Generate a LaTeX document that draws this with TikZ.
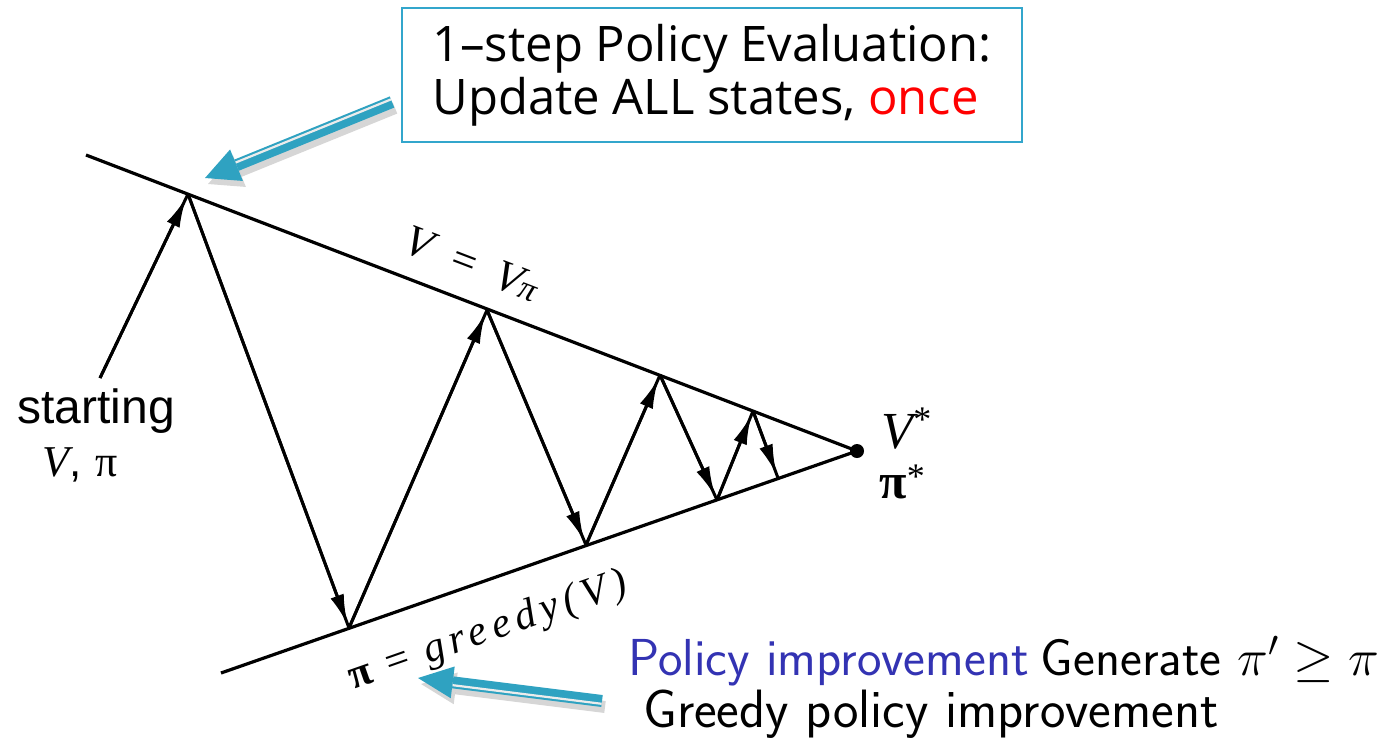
\documentclass[tikz,border=0pt]{standalone}
\usepackage{fix-cm}
\usepackage{fontspec}
\usetikzlibrary{arrows.meta,calc}
\newfontfamily\boxfont{Open Sans}
\newfontfamily\helv{Liberation Sans}
\newfontfamily\tms{Liberation Serif}
\newfontfamily\tmsspaced[LetterSpace=14]{Liberation Serif}
\definecolor{tealb}{HTML}{33A6CC}
\definecolor{arrowb}{HTML}{2FA2C1}
\definecolor{beamerblue}{RGB}{51,51,179}
\begin{document}
\begin{tikzpicture}[x=1pt,y=-1pt,
  axisline/.style={line width=3.2pt},
  segline/.style={line width=3pt},
  zigarrow/.style={line width=3pt,-{Latex[length=30pt,width=14pt]},shorten >=4pt},
  bshaft/.style={arrowb,line width=12pt},
  bstripe/.style={white!85!gray,line width=2.2pt},
  bshadow/.style={black,opacity=0.16,line width=12pt},
]
\useasboundingbox (0,0) rectangle (1391,745);

% geometry
\coordinate (A0) at (86,155);
\coordinate (B0) at (221,673);
\node[circle,fill=black,inner sep=0pt,minimum size=14pt] (apex) at (857,451) {};
\coordinate (s0) at (100,378);
\coordinate (t1) at (188,194);
\coordinate (b1) at (349,628);
\coordinate (t2) at (487,310);
\coordinate (b2) at (586,545);
\coordinate (t3) at (660,375);
\coordinate (b3) at (717,500);
\coordinate (t4) at (753,411);
\coordinate (b4) at (778,478);

\draw[axisline] (A0) -- (apex.center);
\draw[axisline] (B0) -- (apex.center);

\foreach \a/\b in {s0/t1,t1/b1,b1/t2,t2/b2,b2/t3,t3/b3,b3/t4,t4/b4}{
  \draw[segline] (\a) -- (\b);
  \draw[zigarrow] (\a) -- (\b);
}

% labels on the diagram
\node[rotate=-21,font=\tms\itshape\fontsize{44}{44}\selectfont] (vvpi) at (472,264)
  {V\hspace{20pt}=\hspace{20pt}V{\fontsize{34}{34}\selectfont π}};
\node[rotate=19.3,font=\tmsspaced\fontsize{42}{42}\selectfont] (greedy) at (488,632)
  {{\bfseries π} = \itshape greedy(V)};
\node[anchor=base,font=\helv\fontsize{48}{48}\selectfont] (start) at (96,423) {starting};
\node[anchor=base,font=\fontsize{44}{44}\selectfont] (vpi) at (80,476)
  {{\tms\itshape V}{\helv,}\hspace{14pt}{\tms π}};
\node[anchor=base west,font=\tms\itshape\fontsize{52}{52}\selectfont] (vstar) at (878,448)
  {V\raisebox{17pt}{\upshape\fontsize{36}{36}\selectfont *}};
\node[anchor=base west,font=\tms\bfseries\fontsize{50}{50}\selectfont] (pistar) at (876,498)
  {π\raisebox{10pt}{\mdseries\fontsize{36}{36}\selectfont *}};

% evaluation box
\node[draw=tealb,line width=1.6pt,minimum width=620pt,minimum height=134pt,
      align=left,inner sep=0pt,font=\boxfont\fontsize{49}{53}\selectfont] (eval) at (712,75)
  {1–step Policy Evaluation:\\Update ALL states, \textcolor{red}{once}};

% blue arrow (top)
\coordinate (ta) at (392,102);
\coordinate (tb) at (205,178);
\coordinate (tm) at ($(tb)!34pt!(ta)$);
\begin{scope}[transform canvas={xshift=3pt,yshift=-6pt}]
  \draw[bshadow] (ta) -- (tm);
  \fill[black,opacity=0.16] (tb) -- ($(tm)!17pt!90:(ta)$) -- ($(tm)!17pt!-90:(ta)$) -- cycle;
\end{scope}
\draw[bshaft] (ta) -- (tm);
\draw[bstripe] ($(ta)!2.8pt!-90:(tb)$) -- ($(tm)!2.8pt!90:(ta)$);
\fill[arrowb] (tb) -- ($(tm)!17pt!90:(ta)$) -- ($(tm)!17pt!-90:(ta)$) -- cycle;

% blue arrow (bottom)
\coordinate (ba) at (602,701);
\coordinate (bb) at (418,678);
\coordinate (bm) at ($(bb)!35pt!(ba)$);
\begin{scope}[transform canvas={xshift=3pt,yshift=-6pt}]
  \draw[bshadow] (ba) -- (bm);
  \fill[black,opacity=0.16] (bb) -- ($(bm)!16pt!90:(ba)$) -- ($(bm)!16pt!-90:(ba)$) -- cycle;
\end{scope}
\draw[bshaft] (ba) -- (bm);
\draw[bstripe] ($(ba)!2.8pt!90:(bb)$) -- ($(bm)!2.8pt!-90:(ba)$);
\fill[arrowb] (bb) -- ($(bm)!16pt!90:(ba)$) -- ($(bm)!16pt!-90:(ba)$) -- cycle;

% bottom texts
\node[anchor=base west,font=\sffamily\fontsize{52}{52}\selectfont,inner sep=0pt] (imp) at (628,675)
  {\textcolor{beamerblue}{Policy improvement}\hspace{12pt}Generate $\pi'\geq\pi$};
\node[anchor=base west,font=\sffamily\fontsize{54}{54}\selectfont,inner sep=0pt] (gpi) at (643,727)
  {Greedy policy improvement};
\end{tikzpicture}
\end{document}
